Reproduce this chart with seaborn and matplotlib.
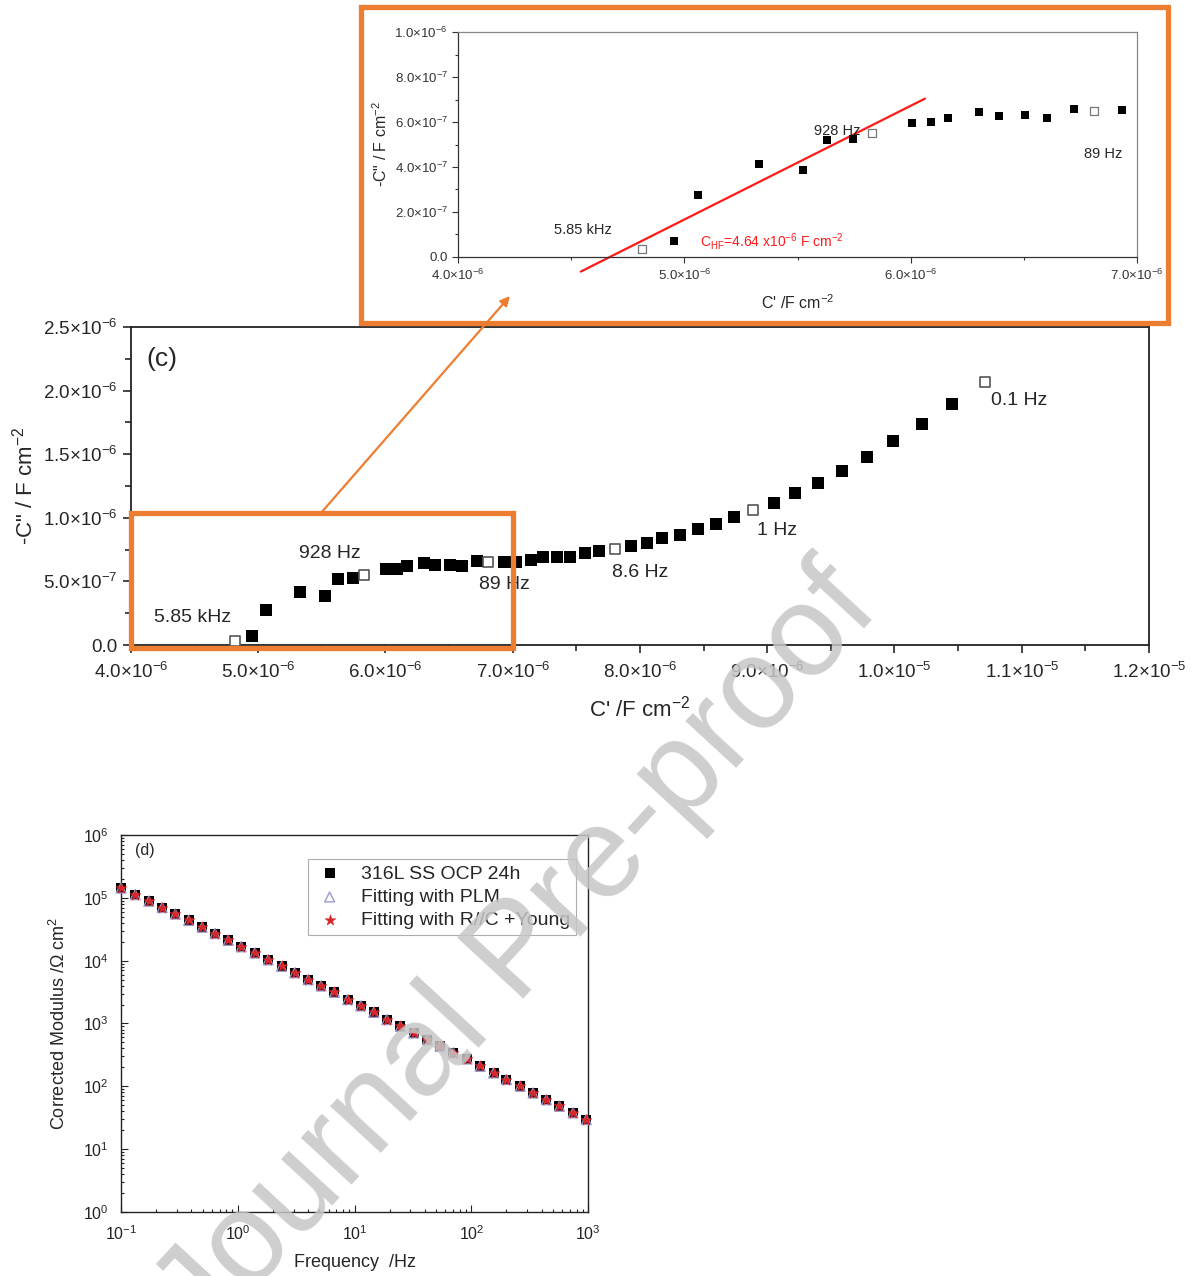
import numpy as np
import pandas as pd
import matplotlib
matplotlib.use("Agg")
import matplotlib.pyplot as plt
import seaborn as sns
from matplotlib.ticker import MultipleLocator, FuncFormatter, LogLocator, NullFormatter
from matplotlib.patches import Rectangle

# ---------------- data: complex capacitance plot (c) ----------------
c_real = [4.814e-6, 4.954e-6, 5.061e-6, 5.331e-6, 5.523e-6, 5.628e-6, 5.747e-6, 5.829e-6,
          6.005e-6, 6.090e-6, 6.166e-6, 6.300e-6, 6.390e-6, 6.506e-6, 6.602e-6, 6.721e-6,
          6.808e-6, 6.934e-6, 7.027e-6, 7.141e-6, 7.238e-6, 7.346e-6, 7.454e-6, 7.570e-6,
          7.681e-6, 7.803e-6, 7.927e-6, 8.054e-6, 8.176e-6, 8.311e-6, 8.455e-6, 8.595e-6,
          8.738e-6, 8.890e-6, 9.052e-6, 9.220e-6, 9.397e-6, 9.590e-6, 9.782e-6, 9.992e-6,
          10.215e-6, 10.452e-6, 10.708e-6]
c_imag = [0.034e-6, 0.070e-6, 0.277e-6, 0.414e-6, 0.385e-6, 0.519e-6, 0.525e-6, 0.553e-6,
          0.595e-6, 0.598e-6, 0.620e-6, 0.645e-6, 0.627e-6, 0.629e-6, 0.620e-6, 0.657e-6,
          0.651e-6, 0.652e-6, 0.649e-6, 0.670e-6, 0.691e-6, 0.691e-6, 0.691e-6, 0.720e-6,
          0.743e-6, 0.751e-6, 0.780e-6, 0.806e-6, 0.838e-6, 0.864e-6, 0.911e-6, 0.950e-6,
          1.003e-6, 1.060e-6, 1.120e-6, 1.196e-6, 1.277e-6, 1.369e-6, 1.479e-6, 1.602e-6,
          1.736e-6, 1.898e-6, 2.071e-6]
freq_marks = {0: "5.85 kHz", 7: "928 Hz", 16: "89 Hz", 25: "8.6 Hz", 33: "1 Hz", 42: "0.1 Hz"}
inset_marks = {0: "5.85 kHz", 7: "928 Hz", 16: "89 Hz"}

# high-frequency fit line in the inset (end points)
hf_fit_x = [4.542e-6, 6.063e-6]
hf_fit_y = [-0.065e-6, 0.704e-6]
chf_text = r"C$_{\mathregular{HF}}$=4.64 x10$^{-6}$ F cm$^{-2}$"

# ---------------- data: Bode modulus plot (d) ----------------
freq_hz = [0.1, 0.1325, 0.173, 0.225, 0.292, 0.379, 0.495, 0.638, 0.828, 1.07, 1.40, 1.82,
           2.37, 3.07, 4.01, 5.17, 6.72, 8.72, 11.3, 14.6, 18.9, 24.7, 32.1, 42.0, 54.0,
           70.2, 91.8, 119, 155, 200, 262, 338, 439, 569, 744, 966]
modulus = [1.43e5, 1.12e5, 8.85e4, 7.0e4, 5.5e4, 4.36e4, 3.4e4, 2.7e4, 2.1e4, 1.66e4, 1.32e4,
           1.03e4, 8.1e3, 6.4e3, 4.98e3, 3.95e3, 3.13e3, 2.4e3, 1.9e3, 1.5e3, 1.15e3, 900,
           706, 553, 434, 340, 272, 208, 163, 128, 100, 78, 61, 48, 37.7, 29.5]
modulus_plm = list(modulus)
modulus_young = list(modulus)
series_names = ["316L SS OCP 24h", "Fitting with PLM", "Fitting with R//C +Young"]

ORANGE = "#ED7D31"

sns.set_theme(style="ticks")
plt.rcParams["font.family"] = ["Liberation Sans", "DejaVu Sans"]
plt.rcParams["mathtext.fontset"] = "custom"
plt.rcParams["mathtext.rm"] = "Liberation Sans"
plt.rcParams["mathtext.it"] = "Liberation Sans:italic"
plt.rcParams["mathtext.bf"] = "Liberation Sans:bold"
plt.rcParams["axes.unicode_minus"] = False


def sci_fmt(v, pos):
    if abs(v) < 1e-15:
        return "0.0"
    e = int(np.floor(np.log10(abs(v)) + 1e-9))
    m = v / 10.0 ** e
    return r"$\mathregular{%.1f{\times}10^{%d}}$" % (m, e)


fig = plt.figure(figsize=(11.96, 12.76), dpi=100)

cdf = pd.DataFrame({"cr": c_real, "ci": c_imag})
cdf["open"] = [i in freq_marks for i in range(len(cdf))]

# ---------------- main plot (c) ----------------
ax = fig.add_axes([0.1095, 0.4945, 0.8512, 0.2492])
sns.scatterplot(data=cdf[~cdf["open"]], x="cr", y="ci", marker="s", s=66, color="black",
                edgecolor="black", linewidth=0, ax=ax, clip_on=False, zorder=3)
sns.scatterplot(data=cdf[cdf["open"]], x="cr", y="ci", marker="s", s=58, color="white",
                edgecolor="#555555", linewidth=1.2, ax=ax, clip_on=False, zorder=3)
ax.set_xlim(4e-6, 1.2e-5)
ax.set_ylim(0, 2.5e-6)
ax.xaxis.set_major_locator(MultipleLocator(1e-6))
ax.xaxis.set_minor_locator(MultipleLocator(0.5e-6))
ax.yaxis.set_major_locator(MultipleLocator(0.5e-6))
ax.yaxis.set_minor_locator(MultipleLocator(0.25e-6))
ax.xaxis.set_major_formatter(FuncFormatter(sci_fmt))
ax.yaxis.set_major_formatter(FuncFormatter(sci_fmt))
ax.tick_params(which="both", direction="out", top=False, right=False, labelsize=13.5, width=1.2)
ax.tick_params(which="major", length=6)
ax.tick_params(which="minor", length=4)
ax.tick_params(axis="x", pad=6)
for s in ax.spines.values():
    s.set_linewidth(1.3)
    s.set_color("#222222")
ax.set_xlabel(r"C' /F cm$^{-2}$", fontsize=16, labelpad=10)
ax.set_ylabel(r'-C" / F cm$^{-2}$', fontsize=16, labelpad=4)
ax.text(0.015, 0.9, "(c)", transform=ax.transAxes, fontsize=19, va="center", ha="left")
main_off = {0: (4.487e-6, 0.220e-6), 7: (5.563e-6, 0.723e-6), 16: (6.938e-6, 0.472e-6),
            25: (7.998e-6, 0.574e-6), 33: (9.075e-6, 0.904e-6), 42: (10.976e-6, 1.926e-6)}
for i, lab in freq_marks.items():
    ax.text(main_off[i][0], main_off[i][1], lab, fontsize=14, ha="center", va="center", zorder=4)

# zoom box and arrow
ax.add_patch(Rectangle((4.0e-6, -0.02e-6), 3.0e-6, 1.06e-6, fill=False, ec=ORANGE, lw=3.8,
                       clip_on=False, zorder=5))
ax.annotate("", xy=(0.4264, 0.768), xycoords="figure fraction",
            xytext=(5.5e-6, 1.046e-6), textcoords="data",
            arrowprops=dict(arrowstyle="-|>", color=ORANGE, lw=1.6, mutation_scale=14,
                            shrinkA=0, shrinkB=0), zorder=5)

# ---------------- inset ----------------
fig.add_artist(Rectangle((0.3018, 0.7469), 0.6748, 0.2476, transform=fig.transFigure,
                         fill=False, ec=ORANGE, lw=3.8, zorder=1))
axin = fig.add_axes([0.383, 0.7986, 0.5677, 0.1763])
idf = cdf[cdf["cr"] <= 7.0e-6]
sns.scatterplot(data=idf[~idf["open"]], x="cr", y="ci", marker="s", s=30, color="black",
                edgecolor="black", linewidth=0, ax=axin, clip_on=False, zorder=3)
sns.scatterplot(data=idf[idf["open"]], x="cr", y="ci", marker="s", s=26, color="white",
                edgecolor="#777777", linewidth=0.9, ax=axin, clip_on=False, zorder=3)
axin.plot(hf_fit_x, hf_fit_y, color="#FF1A1A", lw=1.6, clip_on=False, zorder=2)
axin.set_xlim(4e-6, 7e-6)
axin.set_ylim(0, 1e-6)
axin.xaxis.set_major_locator(MultipleLocator(1e-6))
axin.xaxis.set_minor_locator(MultipleLocator(0.5e-6))
axin.yaxis.set_major_locator(MultipleLocator(2e-7))
axin.yaxis.set_minor_locator(MultipleLocator(1e-7))
axin.xaxis.set_major_formatter(FuncFormatter(sci_fmt))
axin.yaxis.set_major_formatter(FuncFormatter(sci_fmt))
axin.tick_params(which="both", direction="out", top=False, right=False, labelsize=9.5,
                 width=0.8, colors="#333333")
axin.tick_params(which="major", length=4)
axin.tick_params(which="minor", length=2.5)
for k, s in axin.spines.items():
    s.set_linewidth(0.9)
    s.set_color("#333333" if k in ("left", "bottom") else "#888888")
axin.set_xlabel(r"C' /F cm$^{-2}$", fontsize=11.5, labelpad=8)
axin.set_ylabel(r'-C" / F cm$^{-2}$', fontsize=11.5, labelpad=3)
in_off = {0: (4.552e-6, 0.12e-6), 7: (5.675e-6, 0.56e-6), 16: (6.850e-6, 0.458e-6)}
for i, lab in inset_marks.items():
    axin.text(in_off[i][0], in_off[i][1], lab, fontsize=10.5, ha="center", va="center")
axin.text(5.07e-6, 0.071e-6, chf_text, fontsize=10, color="#FF1A1A", ha="left", va="center")

# ---------------- Bode plot (d) ----------------
axd = fig.add_axes([0.1012, 0.0502, 0.3905, 0.2954])
ddf = pd.DataFrame({"f": freq_hz, "data": modulus, "plm": modulus_plm, "young": modulus_young})
sns.scatterplot(data=ddf, x="f", y="data", marker="s", s=55, color="black", edgecolor="black",
                linewidth=0, ax=axd, label=series_names[0], clip_on=False, zorder=3)
sns.scatterplot(data=ddf, x="f", y="plm", marker="^", s=50, color="none", edgecolor="#9A9AD0",
                linewidth=1.0, ax=axd, label=series_names[1], clip_on=False, zorder=4)
sns.scatterplot(data=ddf, x="f", y="young", marker="*", s=70, color="#D9262A",
                edgecolor="#D9262A", linewidth=0.3, ax=axd, label=series_names[2],
                clip_on=False, zorder=5)
axd.set_xscale("log")
axd.set_yscale("log")
axd.set_xlim(0.1, 1000)
axd.set_ylim(1, 1e6)
axd.xaxis.set_major_locator(LogLocator(base=10, numticks=10))
axd.yaxis.set_major_locator(LogLocator(base=10, numticks=10))
axd.xaxis.set_minor_locator(LogLocator(base=10, subs=np.arange(2, 10), numticks=20))
axd.yaxis.set_minor_locator(LogLocator(base=10, subs=np.arange(2, 10), numticks=20))
axd.xaxis.set_minor_formatter(NullFormatter())
axd.yaxis.set_minor_formatter(NullFormatter())
axd.tick_params(which="both", direction="in", top=False, right=False, labelsize=11.5,
                width=0.8, colors="#222222")
axd.tick_params(which="major", length=5)
axd.tick_params(which="minor", length=2.5)
axd.tick_params(axis="x", which="major", pad=9)
axd.tick_params(axis="y", which="major", pad=9)
for s in axd.spines.values():
    s.set_linewidth(1.0)
    s.set_color("#222222")
axd.set_xlabel("Frequency  /Hz", fontsize=13, labelpad=8)
axd.set_ylabel(r"Corrected Modulus /$\mathregular{\Omega}$ cm$^{2}$", fontsize=13, labelpad=10)
axd.text(0.03, 0.958, "(d)", transform=axd.transAxes, fontsize=11.5, ha="left", va="center")
leg = axd.legend(loc="upper right", bbox_to_anchor=(0.974, 0.936), fontsize=14,
                 frameon=True, fancybox=False, edgecolor="#999999", handletextpad=0.8,
                 borderpad=0.3, labelspacing=0.3, handlelength=1.6, borderaxespad=0)
leg.get_frame().set_linewidth(0.8)

# ---------------- watermark ----------------
fig.text(0.4337, 0.2524, "Journal Pre-proof", fontsize=93, color="#c6c6c6", alpha=0.85,
         rotation=47.3, rotation_mode="anchor", ha="center", va="center", zorder=20)

fig.savefig("out.png", dpi=100, facecolor="white")
